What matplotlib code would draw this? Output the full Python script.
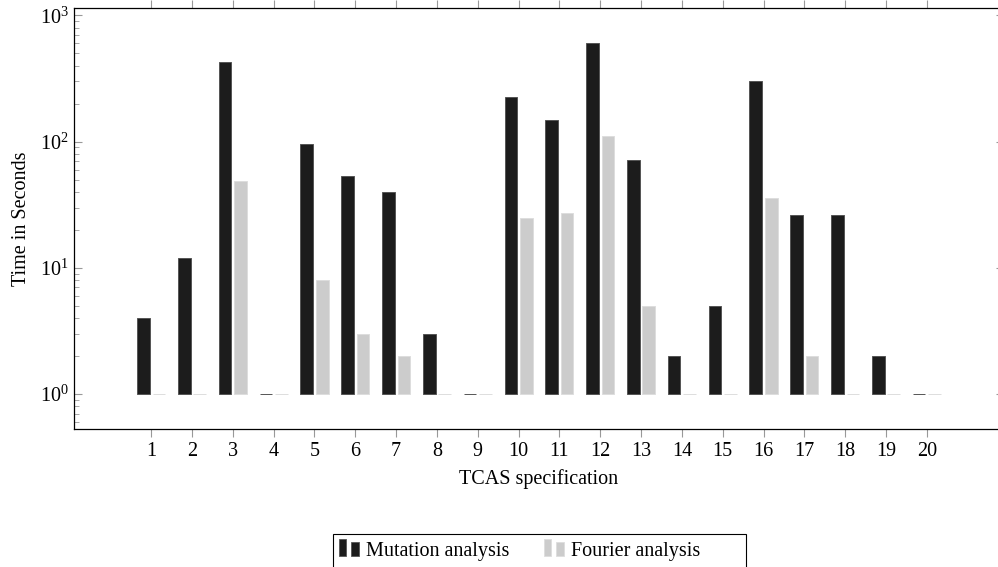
import matplotlib.pyplot as plt
import numpy as np
from matplotlib.legend_handler import HandlerBase
from matplotlib.patches import Rectangle
from matplotlib.ticker import LogLocator, NullFormatter

plt.rcParams['font.family'] = ['Liberation Serif', 'DejaVu Serif']
plt.rcParams['mathtext.fontset'] = 'cm'
plt.rcParams['font.size'] = 14.5

# data (seconds, log scale, bars start at 1)
specs = list(range(1, 21))
mutation = [4, 12, 430, 1, 95, 53, 40, 3, 1, 225, 148, 600, 72, 2, 5, 300, 26, 26, 2, 1]
fourier = [1, 1, 49, 1, 8, 3, 2, 1, 1, 25, 27, 110, 5, 1, 1, 36, 2, 1, 1, 1]

black = '#1c1c1c'
grey = '#cccccc'


class TwoBars(HandlerBase):
    # pgfplots-like ybar legend image: two small bars
    def create_artists(self, legend, orig, xd, yd, w, h, fontsize, trans):
        fc = orig.get_facecolor()
        ec = orig.get_edgecolor()
        r1 = Rectangle((-xd, -yd), w * 0.34, h * 1.2, fc=fc, ec=ec, lw=0.6, transform=trans)
        r2 = Rectangle((-xd + w * 0.62, -yd), w * 0.36, h * 0.93, fc=fc, ec=ec, lw=0.6, transform=trans)
        return [r1, r2]


W, H = 998, 567
fig = plt.figure(figsize=(W / 100, H / 100), dpi=100)
ax = fig.add_axes([74 / W, 1 - 429 / H, 930 / W, 420.7 / H])

x = np.array(specs)
w = 0.31
b1 = ax.bar(x - 0.19, np.array(mutation) - 1, width=w, bottom=1, color=black,
            edgecolor='#555555', linewidth=0.7, label='Mutation analysis')
b2 = ax.bar(x + 0.19, np.array(fourier) - 1, width=w, bottom=1, color=grey,
            edgecolor='#dddddd', linewidth=0.7, label='Fourier analysis')

ax.set_yscale('log')
ax.set_ylim(0.528, 1136)
ax.set_xlim(-0.89, 21.89)

ax.set_xticks(specs)
ax.set_xticklabels([str(s) for s in specs])
ax.tick_params(axis='x', direction='out', length=6, color='#999999', top=True,
               width=0.8, pad=3)
ax.yaxis.set_major_locator(LogLocator(base=10, numticks=10))
ax.yaxis.set_minor_locator(LogLocator(base=10, subs=np.arange(2, 10), numticks=20))
ax.yaxis.set_minor_formatter(NullFormatter())
ax.tick_params(axis='y', which='major', direction='in', length=6, color='#999999',
               right=True, width=0.8, pad=4)
ax.tick_params(axis='y', which='minor', direction='in', length=3.5, color='#999999',
               right=True, width=0.6)

for s in ax.spines.values():
    s.set_linewidth(0.9)

ax.set_xlabel('TCAS specification', labelpad=6.5)
ax.set_ylabel('Time in Seconds', labelpad=6)

# legend below the plot, frame drawn as a box that runs off the bottom edge
h1, h2 = b1.patches[0], b2.patches[0]
leg = fig.legend(handles=[h1, h2], labels=['Mutation analysis', 'Fourier analysis'],
                 handler_map={h1: TwoBars(), h2: TwoBars()},
                 loc='center left', bbox_to_anchor=(339 / W, 1 - 551 / H), ncol=2,
                 frameon=False, borderpad=0, handlelength=1.0, handletextpad=0.35,
                 columnspacing=1.7, borderaxespad=0, handleheight=0.7)
fig.patches.append(Rectangle((333 / W, -0.01), 413 / W, (567 - 534) / H + 0.01,
                             transform=fig.transFigure, fill=False,
                             edgecolor='black', linewidth=0.8))

fig.savefig('out.png', dpi=100)
